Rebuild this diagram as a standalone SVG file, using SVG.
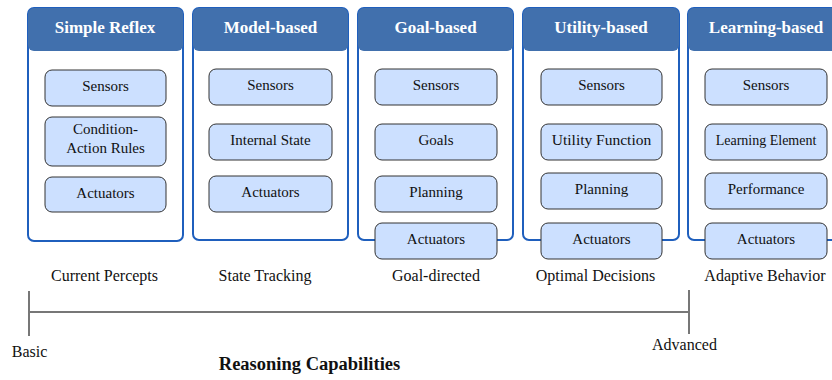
<svg xmlns="http://www.w3.org/2000/svg" width="832" height="380" viewBox="0 0 832 380">
<style>
.panel{fill:#fff;stroke:#1f5fbd;stroke-width:2}
.head{fill:#4170ad}
text{font-family:'Liberation Serif','Times New Roman',serif}
.ht{font-weight:bold;font-size:17px;fill:#fff;text-anchor:middle}
.box{fill:#cce0ff;stroke:#333;stroke-width:1}
.bt{font-size:15px;fill:#111;text-anchor:middle}
.lbl{font-size:16px;fill:#111;text-anchor:middle}
.title{font-size:18.5px;font-weight:bold;fill:#111;text-anchor:middle}
.axis{stroke:#777;stroke-width:2;fill:none}
</style>
<rect width="832" height="380" fill="#fff"/>
<g id="simple-reflex">
<rect class="panel" x="28" y="8" width="155" height="233" rx="6"/>
<rect class="head" x="28" y="8" width="155" height="43" rx="6"/>
<text class="ht" x="105" y="33">Simple Reflex</text>
<rect class="box" x="45" y="70" width="121" height="36" rx="7"/>
<text class="bt" x="105.5" y="91">Sensors</text>
<rect class="box" x="45" y="117" width="121" height="49" rx="7"/>
<text class="bt" x="105.5" y="134">Condition-</text>
<text class="bt" x="105.5" y="153">Action Rules</text>
<rect class="box" x="45" y="177" width="121" height="35" rx="7"/>
<text class="bt" x="105.5" y="198">Actuators</text>
</g>
<g id="model-based">
<rect class="panel" x="193" y="8" width="155" height="232" rx="6"/>
<rect class="head" x="193" y="8" width="155" height="43" rx="6"/>
<text class="ht" x="270.5" y="33">Model-based</text>
<rect class="box" x="209" y="69" width="123" height="36" rx="7"/>
<text class="bt" x="270.5" y="90">Sensors</text>
<rect class="box" x="209" y="124" width="123" height="36" rx="7"/>
<text class="bt" x="270.5" y="145">Internal State</text>
<rect class="box" x="209" y="176" width="123" height="36" rx="7"/>
<text class="bt" x="270.5" y="197">Actuators</text>
</g>
<g id="goal-based">
<rect class="panel" x="358" y="8" width="155" height="232" rx="6"/>
<rect class="head" x="358" y="8" width="155" height="43" rx="6"/>
<text class="ht" x="435.5" y="33">Goal-based</text>
<rect class="box" x="375" y="69" width="122" height="36" rx="7"/>
<text class="bt" x="436" y="90">Sensors</text>
<rect class="box" x="375" y="124" width="122" height="36" rx="7"/>
<text class="bt" x="436" y="145">Goals</text>
<rect class="box" x="375" y="176" width="122" height="36" rx="7"/>
<text class="bt" x="436" y="197">Planning</text>
<rect class="box" x="375" y="223" width="122" height="36" rx="7"/>
<text class="bt" x="436" y="244">Actuators</text>
</g>
<g id="utility-based">
<rect class="panel" x="523" y="8" width="156" height="232" rx="6"/>
<rect class="head" x="523" y="8" width="156" height="43" rx="6"/>
<text class="ht" x="601" y="33">Utility-based</text>
<rect class="box" x="541" y="69" width="121" height="36" rx="7"/>
<text class="bt" x="601.5" y="90">Sensors</text>
<rect class="box" x="541" y="124" width="121" height="36" rx="7"/>
<text class="bt" x="601.5" y="145" style="font-size:15.5px">Utility Function</text>
<rect class="box" x="541" y="173" width="121" height="36" rx="7"/>
<text class="bt" x="601.5" y="194">Planning</text>
<rect class="box" x="541" y="223" width="121" height="36" rx="7"/>
<text class="bt" x="601.5" y="244">Actuators</text>
</g>
<g id="learning-based">
<rect class="panel" x="688" y="8" width="155" height="232" rx="6"/>
<rect class="head" x="688" y="8" width="155" height="43" rx="6"/>
<text class="ht" x="766" y="33">Learning-based</text>
<rect class="box" x="705" y="69" width="122" height="36" rx="7"/>
<text class="bt" x="766" y="90">Sensors</text>
<rect class="box" x="705" y="124" width="122" height="36" rx="7"/>
<text class="bt" x="766" y="145" style="font-size:14px">Learning Element</text>
<rect class="box" x="705" y="173" width="122" height="36" rx="7"/>
<text class="bt" x="766" y="194">Performance</text>
<rect class="box" x="705" y="223" width="122" height="36" rx="7"/>
<text class="bt" x="766" y="244">Actuators</text>
</g>
<g id="labels">
<text class="lbl" x="104.5" y="281">Current Percepts</text>
<text class="lbl" x="265" y="281">State Tracking</text>
<text class="lbl" x="436" y="281">Goal-directed</text>
<text class="lbl" x="595.5" y="281">Optimal Decisions</text>
<text class="lbl" x="765" y="281">Adaptive Behavior</text>
</g>
<g id="connectors">
<line class="axis" x1="29" y1="312" x2="689" y2="312"/>
<line class="axis" x1="29" y1="291" x2="29" y2="336"/>
<line class="axis" x1="689" y1="290" x2="689" y2="334"/>
</g>
<g id="axis-labels">
<text class="lbl" x="29.5" y="357">Basic</text>
<text class="lbl" x="684.5" y="350">Advanced</text>
<text class="title" x="309.5" y="370">Reasoning Capabilities</text>
</g>
</svg>
